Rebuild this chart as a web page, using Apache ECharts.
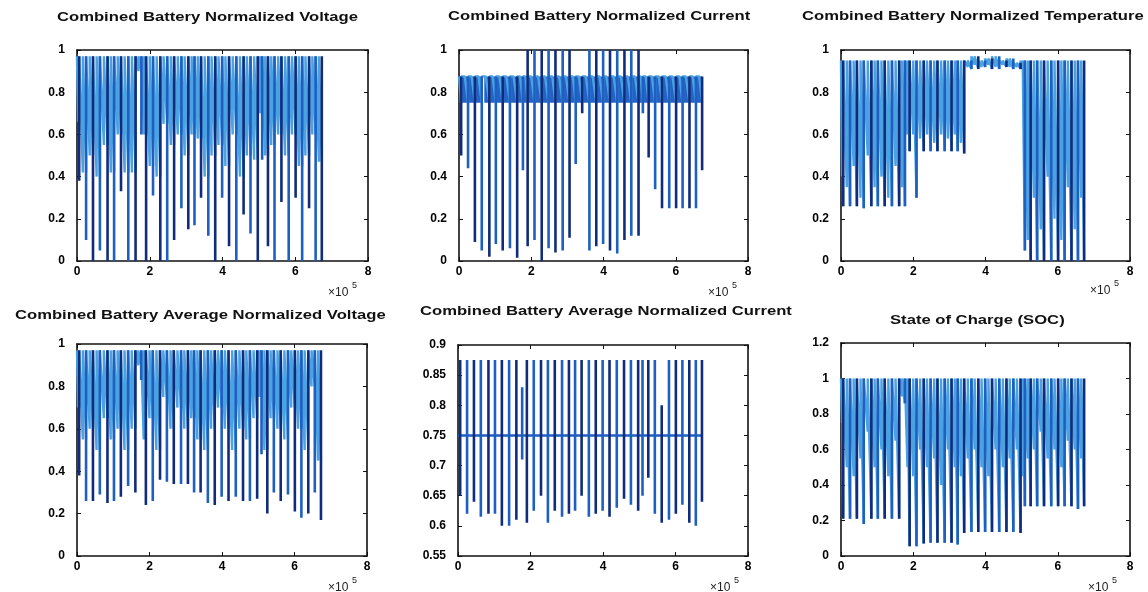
<!DOCTYPE html>
<html><head><meta charset="utf-8">
<script src="https://cdn.jsdelivr.net/npm/echarts@6/dist/echarts.min.js"></script>
<style>html,body{margin:0;padding:0;background:#fff;overflow:hidden}#c{width:1148px;height:592px}</style>
</head><body><div id="c"></div><script>
// ---- data (x in units of 10^5 samples) ----
// cycle boundaries (main recharge instants) and secondary dip instants
const T = [0.00, 0.06, 0.25, 0.44, 0.63, 0.84, 1.02, 1.21, 1.41, 1.61, 1.77, 1.90, 2.09, 2.29, 2.48, 2.67, 2.87, 3.06, 3.23, 3.41, 3.61, 3.80, 3.99, 4.18, 4.38, 4.58, 4.77, 4.97, 5.09, 5.25, 5.43, 5.62, 5.82, 6.01, 6.19, 6.38, 6.56, 6.73];
const T2 = [0.03, 0.16, 0.35, 0.54, 0.74, 0.93, 1.12, 1.31, 1.51, 1.69, 1.84, 2.00, 2.19, 2.38, 2.58, 2.77, 2.96, 3.15, 3.32, 3.51, 3.70, 3.89, 4.08, 4.28, 4.48, 4.67, 4.87, 5.03, 5.17, 5.34, 5.53, 5.72, 5.91, 6.10, 6.28, 6.47, 6.65];

const TITLES = ['Combined Battery Normalized Voltage', 'Combined Battery Normalized Current', 'Combined Battery Normalized Temperature',
  'Combined Battery Average Normalized Voltage', 'Combined Battery Average Normalized Current', 'State of Charge (SOC)'];
const X_TICKS = [0, 2, 4, 6, 8];

// Normalized voltage
const voltHigh = 0.97;
const voltMid = [0.66, 0.42, 0.50, 0.40, 0.55, 0.42, 0.60, 0.42, 0.42, 0.90, 0.60, 0.45, 0.40, 0.65, 0.55, 0.60, 0.50, 0.60, 0.58, 0.40, 0.50, 0.55, 0.45, 0.60, 0.40, 0.50, 0.48, 0.70, 0.50, 0.55, 0.60, 0.50, 0.60, 0.45, 0.50, 0.60, 0.47];
const voltLow = [0.38, 0.10, 0.00, 0.05, 0.00, 0.00, 0.33, 0.00, 0.00, 0.60, 0.00, 0.31, 0.00, 0.00, 0.10, 0.25, 0.15, 0.17, 0.30, 0.12, 0.00, 0.30, 0.07, 0.00, 0.22, 0.13, 0.00, 0.48, 0.07, 0.00, 0.28, 0.00, 0.30, 0.00, 0.25, 0.00, 0.00];

// Normalized current
const curHigh = 0.875, curBase = 0.75;
const curLow = [0.50, 0.44, 0.09, 0.05, 0.02, 0.08, 0.05, 0.06, 0.015, 0.43, 0.07, 0.10, 0.00, 0.06, 0.04, 0.05, 0.11, 0.46, 0.70, 0.05, 0.07, 0.08, 0.05, 0.035, 0.10, 0.12, 0.12, 0.70, 0.49, 0.34, 0.25, 0.25, 0.25, 0.25, 0.25, 0.25, 0.43];
const curTop = [0.875, 0.875, 0.875, 0.875, 0.875, 0.875, 0.875, 0.875, 0.875, 0.875, 1, 1, 1, 1, 1, 1, 1, 0.875, 0.875, 1, 1, 1, 1, 1, 1, 1, 1, 0.875, 0.875, 0.875, 0.875, 0.875, 0.875, 0.875, 0.875, 0.875, 0.875];
const curBand = [[0.00, 0.60], [0.70, 3.38], [3.42, 5.08], [5.12, 6.73]];

// Normalized temperature
const tempHigh = [0.95, 0.95, 0.95, 0.95, 0.95, 0.95, 0.95, 0.95, 0.95, 0.95, 0.95, 0.95, 0.95, 0.95, 0.95, 0.95, 0.95, 0.95, 0.95, 0.95, 0.97, 0.95, 0.96, 0.97, 0.95, 0.96, 0.94, 0.95, 0.95, 0.95, 0.95, 0.95, 0.95, 0.95, 0.95, 0.95, 0.95];
const tempMid = [0.40, 0.35, 0.45, 0.30, 0.50, 0.35, 0.40, 0.30, 0.45, 0.35, 0.60, 0.60, 0.58, 0.60, 0.56, 0.60, 0.58, 0.60, 0.56, 0.92, 0.93, 0.92, 0.93, 0.92, 0.93, 0.92, 0.92, 0.92, 0.10, 0.30, 0.15, 0.40, 0.20, 0.10, 0.35, 0.15, 0.30];
const tempLow = [0.26, 0.26, 0.26, 0.25, 0.26, 0.26, 0.26, 0.26, 0.26, 0.26, 0.52, 0.30, 0.52, 0.52, 0.52, 0.52, 0.52, 0.52, 0.51, 0.91, 0.91, 0.92, 0.91, 0.91, 0.92, 0.91, 0.91, 0.05, 0.00, 0.00, 0.00, 0.00, 0.00, 0.00, 0.00, 0.00, 0.00];

// Average normalized voltage
const avgVHigh = 0.97;
const avgVMid = [0.70, 0.55, 0.60, 0.50, 0.65, 0.55, 0.60, 0.50, 0.60, 0.90, 0.55, 0.65, 0.50, 0.75, 0.60, 0.70, 0.60, 0.65, 0.55, 0.50, 0.60, 0.70, 0.60, 0.50, 0.60, 0.55, 0.65, 0.75, 0.50, 0.65, 0.60, 0.55, 0.70, 0.60, 0.50, 0.80, 0.45];
const avgVLow = [0.38, 0.26, 0.26, 0.29, 0.25, 0.26, 0.28, 0.33, 0.30, 0.83, 0.24, 0.26, 0.36, 0.35, 0.34, 0.34, 0.34, 0.30, 0.30, 0.25, 0.24, 0.28, 0.26, 0.28, 0.26, 0.26, 0.27, 0.48, 0.20, 0.30, 0.26, 0.29, 0.21, 0.18, 0.20, 0.30, 0.17];

// Average normalized current
const avgCBase = 0.75;
const avgCTop = [0.875, 0.875, 0.875, 0.875, 0.875, 0.875, 0.875, 0.875, 0.875, 0.83, 0.875, 0.875, 0.875, 0.875, 0.875, 0.875, 0.875, 0.875, 0.875, 0.875, 0.875, 0.875, 0.875, 0.875, 0.875, 0.875, 0.875, 0.875, 0.875, 0.875, 0.80, 0.875, 0.875, 0.875, 0.875, 0.875, 0.875];
const avgCLow = [0.65, 0.62, 0.64, 0.615, 0.62, 0.62, 0.60, 0.60, 0.61, 0.71, 0.605, 0.625, 0.65, 0.605, 0.625, 0.615, 0.62, 0.625, 0.65, 0.615, 0.62, 0.625, 0.615, 0.63, 0.645, 0.635, 0.625, 0.65, 0.68, 0.62, 0.605, 0.61, 0.62, 0.635, 0.605, 0.60, 0.64];

// State of charge
const socHigh = 1.0;
const socMid = [0.75, 0.50, 0.45, 0.55, 0.70, 0.50, 0.60, 0.45, 0.65, 0.90, 0.50, 0.45, 0.60, 0.50, 0.55, 0.40, 0.60, 0.50, 0.45, 0.55, 0.60, 0.50, 0.45, 0.60, 0.50, 0.55, 0.60, 0.45, 0.55, 0.60, 0.70, 0.55, 0.60, 0.50, 0.65, 0.60, 0.55];
const socLow = [0.21, 0.21, 0.21, 0.18, 0.21, 0.21, 0.21, 0.21, 0.21, 0.86, 0.055, 0.055, 0.07, 0.075, 0.075, 0.075, 0.075, 0.065, 0.13, 0.135, 0.135, 0.135, 0.135, 0.135, 0.135, 0.135, 0.13, 0.28, 0.28, 0.28, 0.28, 0.28, 0.28, 0.28, 0.28, 0.265, 0.28];

const Y_RANGES = [[0, 1, 0.2], [0, 1, 0.2], [0, 1, 0.2], [0, 1, 0.2], [0.55, 0.9, 0.05], [0, 1.2, 0.2]];

// ---- layout ----
const GRIDS = [
  {left: 77, top: 50, width: 291, height: 211},
  {left: 459, top: 50, width: 289, height: 211},
  {left: 841, top: 50, width: 289, height: 211},
  {left: 77, top: 344, width: 290, height: 212},
  {left: 458, top: 345, width: 290, height: 211},
  {left: 841, top: 343, width: 289, height: 213}
];
const TITLE_POS = [[57, 18], [448, 17], [802, 17], [15, 316], [420, 312], [890, 321]];
const EXP_POS = [[328, 293], [708, 293], [1090, 291], [328, 588], [710, 588], [1088, 588]];

const LIGHT = '#4aa2e2', NAVY = '#112c7c', MED = '#1e5fc2', BAND = '#2463c4';

function pick(a, k) { return Array.isArray(a) ? a[k] : a; }
// light trace: two dips per cycle (at T2 to mid1, at next T to mid2); dark trace: recharge verticals at T
function build(high, mid1, mid2, low, top) {
  const light = [], vA = [], vB = [];
  for (let k = 0; k < T.length - 1; k++) {
    light.push([T[k], pick(high, k)], [T2[k], pick(mid1, k)], [T2[k], pick(high, k)], [T[k + 1], pick(mid2, k)]);
    const v = (k % 2) ? vB : vA;
    v.push([T[k + 1], pick(low, k)], [T[k + 1], pick(top, k)], [T[k + 1], '-']);
  }
  return {light, vA, vB};
}

const charts = [
  build(voltHigh, voltMid, voltMid, voltLow, voltHigh),
  build(curHigh, curHigh, curBase, curLow, curTop),
  build(tempHigh, tempMid, tempLow, tempLow, tempHigh),
  build(avgVHigh, avgVMid, avgVMid, avgVLow, avgVHigh),
  build(avgCBase, avgCBase, avgCBase, avgCLow, avgCTop),
  build(socHigh, socMid, socLow, socLow, socHigh)
];
const LIGHT_COLORS = [LIGHT, LIGHT, LIGHT, LIGHT, MED, LIGHT];

const lbl = {color: '#000', fontSize: 12, fontFamily: 'Liberation Sans, Arial, sans-serif', fontWeight: 'bold'};
const axLine = {show: true, onZero: false, lineStyle: {color: '#111', width: 1.6}};
const tick = {inside: true, length: 4, lineStyle: {color: '#111'}};
const xAxis = [], yAxis = [], series = [];
GRIDS.forEach((g, i) => {
  const yr = Y_RANGES[i];
  const xr = {type: 'value', gridIndex: i, min: X_TICKS[0], max: X_TICKS[X_TICKS.length - 1], interval: 2, splitLine: {show: false}, axisLine: axLine, axisTick: tick};
  xAxis.push(Object.assign({position: 'bottom', axisLabel: Object.assign({margin: 5}, lbl)}, xr));
  xAxis.push(Object.assign({position: 'top', axisLabel: {show: false}}, xr));
  const yb = {type: 'value', gridIndex: i, min: yr[0], max: yr[1], interval: yr[2], splitLine: {show: false}, axisLine: axLine, axisTick: tick};
  yAxis.push(Object.assign({position: 'left', axisLabel: Object.assign({margin: 12, formatter: v => String(+v.toFixed(2))}, lbl)}, yb));
  yAxis.push(Object.assign({position: 'right', axisLabel: {show: false}}, yb));
  const c = charts[i];
  const common = {type: 'line', xAxisIndex: 2 * i, yAxisIndex: 2 * i, showSymbol: false, symbol: 'none', silent: true, animation: false, clip: true};
  const d = Object.assign({}, common, {data: c.light, z: 2, lineStyle: {color: LIGHT_COLORS[i], width: 2.4}});
  if (i === 1) {
    d.markArea = {silent: true, itemStyle: {color: BAND}, data: curBand.map(b => [{xAxis: b[0], yAxis: curBase}, {xAxis: b[1], yAxis: curHigh}])};
  }
  series.push(d);
  series.push(Object.assign({}, common, {data: c.vA, z: 3, connectNulls: false, lineStyle: {color: NAVY, width: 2.6}}));
  series.push(Object.assign({}, common, {data: c.vB, z: 3, connectNulls: false, lineStyle: {color: MED, width: 2.6}}));
});

// titles (stretched to match the reference's wide lettering)
const ctx = document.createElement('canvas').getContext('2d');
ctx.font = 'bold 12px "Liberation Sans"';
const sx = 301 / ctx.measureText(TITLES[0]).width;
const graphic = [];
TITLES.forEach((t, i) => {
  graphic.push({type: 'text', x: TITLE_POS[i][0], y: TITLE_POS[i][1], scaleX: sx, silent: true,
    style: {text: t, fill: '#111', font: 'bold 12px "Liberation Sans"', textAlign: 'left', textVerticalAlign: 'middle', align: 'left', verticalAlign: 'middle'}});
  graphic.push({type: 'text', x: EXP_POS[i][0], y: EXP_POS[i][1], silent: true,
    style: {text: '\u00d710', fill: '#222', font: '12px "Liberation Sans"', textAlign: 'left', textVerticalAlign: 'middle', align: 'left', verticalAlign: 'middle'}});
  graphic.push({type: 'text', x: EXP_POS[i][0] + 24, y: EXP_POS[i][1] - 7, silent: true,
    style: {text: '5', fill: '#222', font: '9px "Liberation Sans"', textAlign: 'left', textVerticalAlign: 'middle', align: 'left', verticalAlign: 'middle'}});
});

const chart = echarts.init(document.getElementById('c'), null, {renderer: 'canvas'});
chart.setOption({animation: false, backgroundColor: '#fff', grid: GRIDS.map(g => Object.assign({containLabel: false, show: false}, g)),
  xAxis, yAxis, series, graphic});
</script></body></html>
